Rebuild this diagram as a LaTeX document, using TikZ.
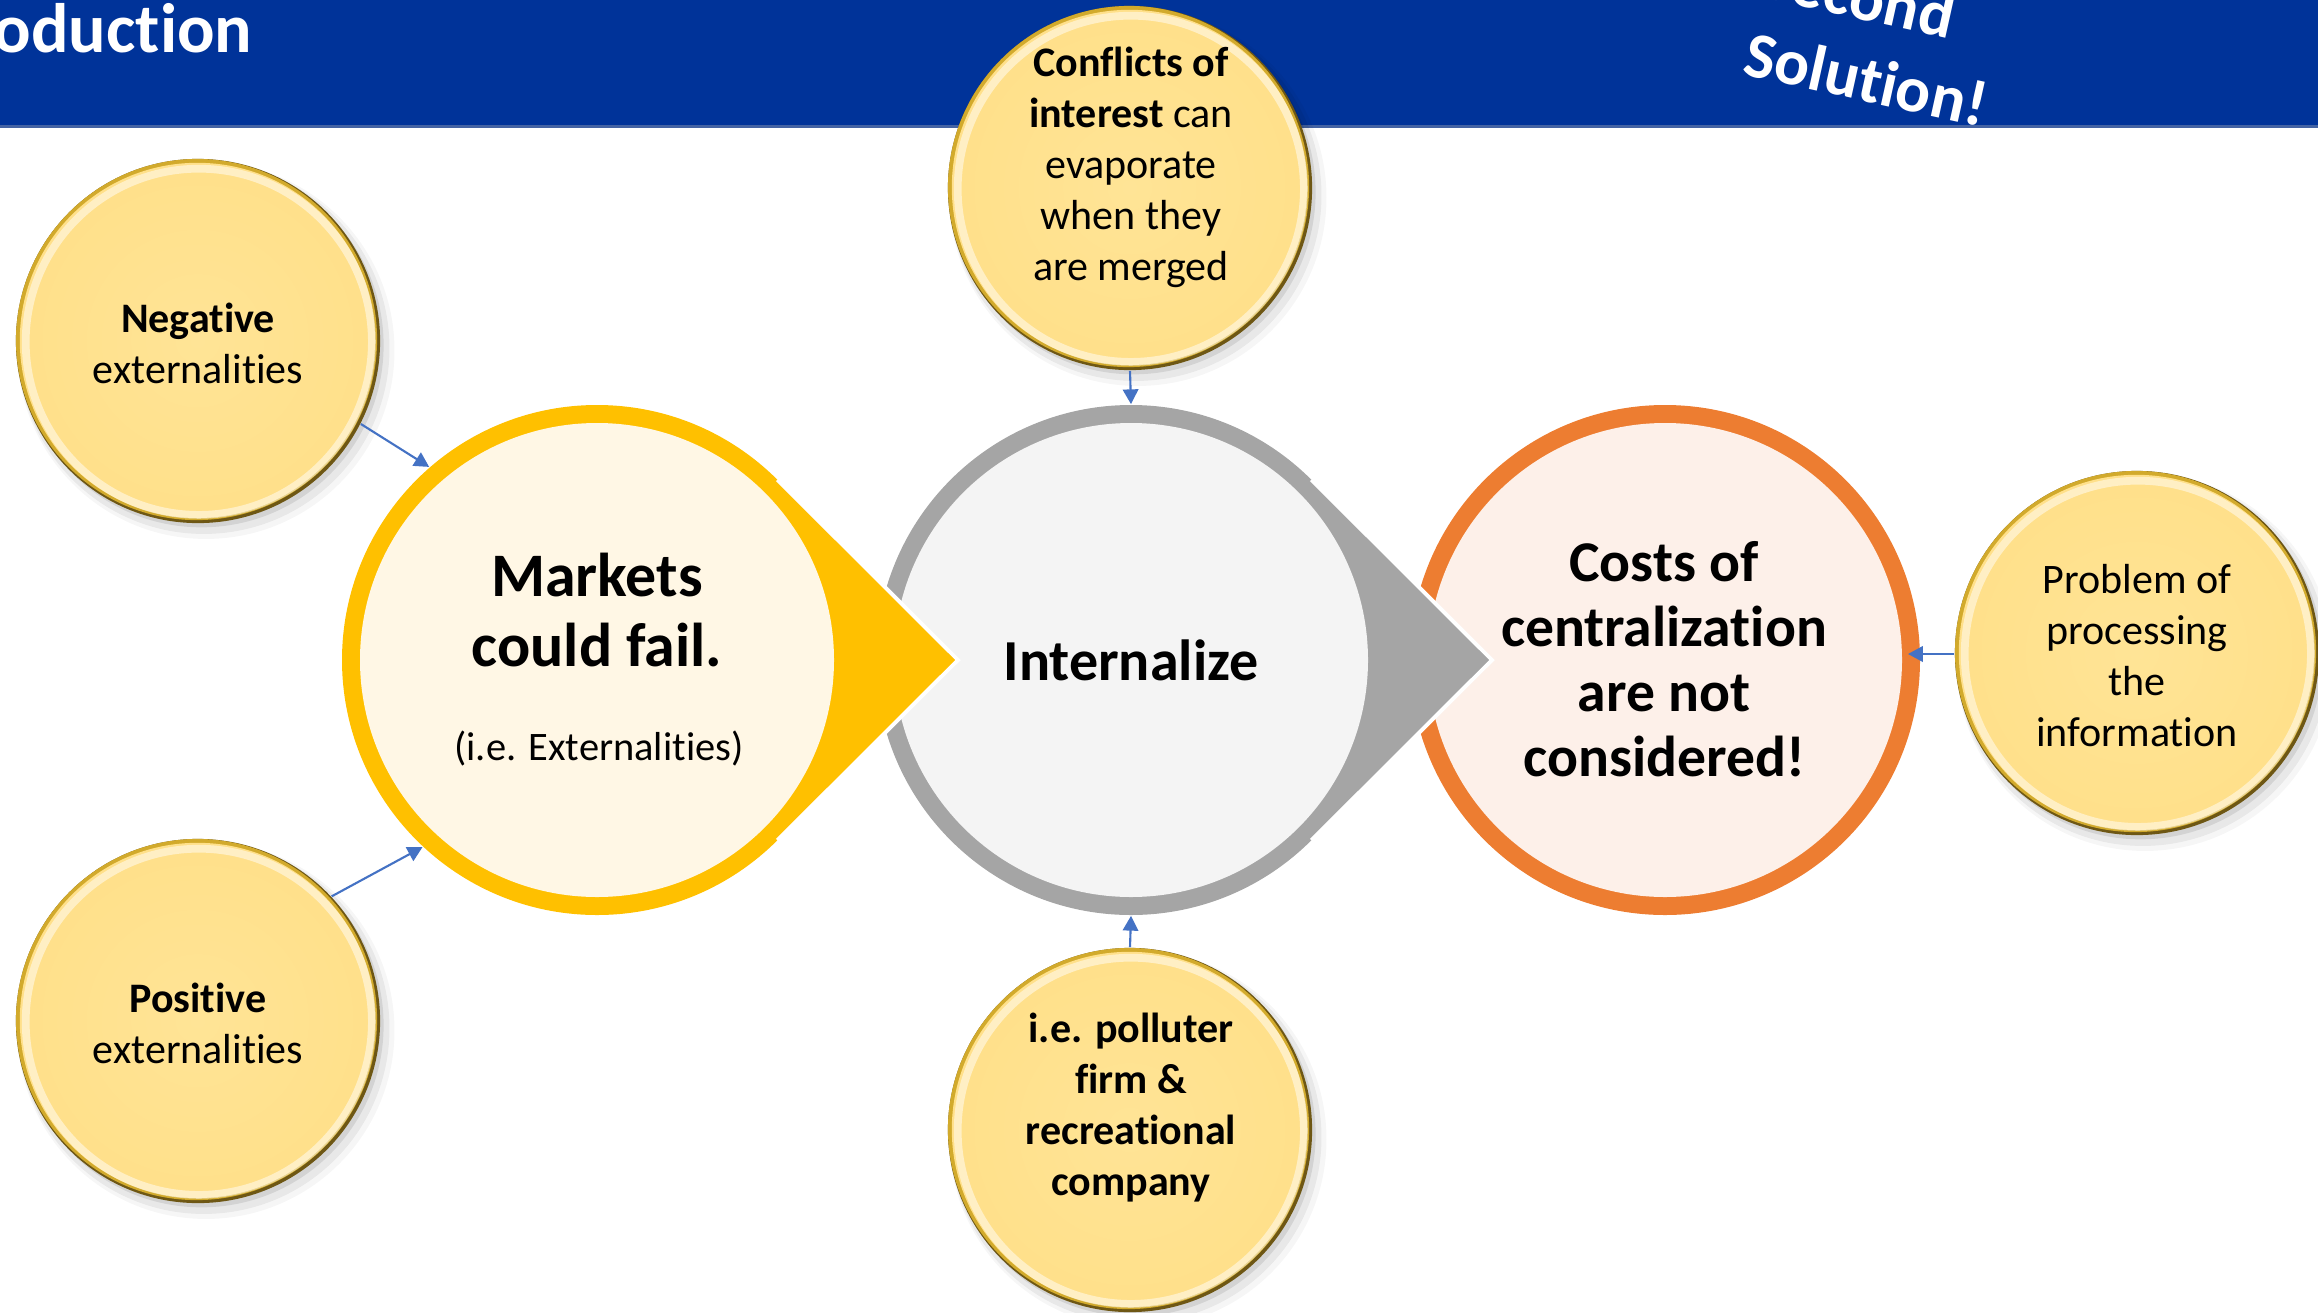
\documentclass[tikz,border=0pt]{standalone}
\usepackage{fontspec}
\setmainfont{Carlito}[Ligatures={NoCommon}]
\usetikzlibrary{arrows.meta,shadows}

\definecolor{banner}{HTML}{003399}
\definecolor{bannerline}{HTML}{4463A3}
\definecolor{goldring}{HTML}{FFC000}
\definecolor{goldfill}{HTML}{FFF7E5}
\definecolor{grayring}{HTML}{A5A5A5}
\definecolor{grayfill}{HTML}{F4F4F4}
\definecolor{orangering}{HTML}{ED7D31}
\definecolor{orangefill}{HTML}{FDF0E9}
\definecolor{arrowblue}{HTML}{4472C4}
\definecolor{bubbleDark}{HTML}{6E5714}
\definecolor{bubbleRim}{HTML}{D2AA2C}
\definecolor{bubbleIn}{HTML}{FFE496}
\definecolor{bubbleOut}{HTML}{FFE08A}

% teardrop: ring colour, fill colour; drawn around the current origin
\newcommand\teardrop[2]{%
  \fill[#1] (0,0) circle[radius=255];
  \fill[#1] (180.3,-180.3) -- (361,0) -- (180.3,180.3) -- cycle;
  \draw[white, line width=1.1pt, line join=miter] (180.3,-180.3) -- (361,0) -- (180.3,180.3);
  \fill[#2] (0,0) circle[radius=237];
}

\tikzset{
  holder/.style={circle, inner sep=0, minimum size=5.1cm},
  bubble/.style={circle, inner sep=0, minimum size=3.64cm,
    drop shadow={shadow xshift=2.2pt, shadow yshift=-2.6pt, shadow scale=1.035, opacity=0.035, fill=black},
    drop shadow={shadow xshift=1.6pt, shadow yshift=-2pt, shadow scale=1.02, opacity=0.06, fill=black},
    drop shadow={shadow xshift=1pt, shadow yshift=-1.2pt, opacity=0.09, fill=black},
    fill=bubbleDark,
    path picture={
      \fill[bubbleRim] ([shift={(-0.015cm,0.015cm)}]path picture bounding box.center) circle[radius=1.805cm];
      \shade[inner color=bubbleIn, outer color=bubbleOut] ([shift={(-0.006cm,0.006cm)}]path picture bounding box.center) circle[radius=1.775cm];
      \draw[white, opacity=0.5, line width=2.2pt] ([shift={(0.008cm,-0.008cm)}]path picture bounding box.center) circle[radius=1.73cm];
    }},
  btext/.style={align=center, inner sep=0, font=\fontsize{11.95}{14.5}\selectfont},
  bigtext/.style={align=center, inner sep=0, font=\bfseries\fontsize{16.4}{18.5}\selectfont},
  arr/.style={draw=arrowblue, line width=0.6pt, -{Triangle[length=4.2pt,width=4.4pt]}},
}

\begin{document}
\begin{tikzpicture}[x=0.01cm, y=-0.01cm]
\useasboundingbox (0,0) rectangle (2318,1312);

% title banner
\fill[banner] (0,0) rectangle (2318,125);
\fill[bannerline] (0,125) rectangle (2318,127.5);
\node[anchor=base east, inner sep=0, text=white, font=\bfseries\fontsize{19.9}{24}\selectfont] (title) at (253,52) {oduction};
\node[rotate=-12.5, align=left, inner sep=0, text=white, font=\bfseries\fontsize{18.5}{22.5}\selectfont] (sol) at (1875,40) {Second\\Solution!};

% the three main circles, right to left so each pointer lies on top
\begin{scope}[shift={(1665,660)}]
  \fill[orangering] (0,0) circle[radius=255];
  \fill[orangefill] (0,0) circle[radius=237];
\end{scope}
\begin{scope}[shift={(1131,660)}]\teardrop{grayring}{grayfill}\end{scope}
\begin{scope}[shift={(597,660)}]\teardrop{goldring}{goldfill}\end{scope}

\node[holder] (cost) at (1665,660) {};
\node[holder] (intl) at (1131,660) {};
\node[holder] (mkt) at (597,660) {};
\coordinate (costR) at (1908,654);

\node[align=center, inner sep=0, font=\bfseries\fontsize{17.6}{19.9}\selectfont] (mktT) at (597,610) {Markets\\could fail.};
\node[inner sep=0, font=\fontsize{11.5}{13.7}\selectfont] (mktS) at (599,749) {(i.e. Externalities)};
\node[inner sep=0, font=\bfseries\fontsize{16.5}{19}\selectfont] (intlT) at (1131,660) {Internalize};
\node[bigtext] (costT) at (1664,659) {Costs of\\centralization\\are not\\considered!};

% gold bubbles
\node[bubble] (neg) at (198,341) {};
\node[bubble] (pos) at (198,1021) {};
\node[bubble] (conf) at (1130,188) {};
\node[bubble] (comp) at (1130,1130) {};
\node[bubble] (prob) at (2137,653) {};

\node[btext] (negT) at (198,343) {\textbf{Negative}\\externalities};
\node[btext] (posT) at (198,1023) {\textbf{Positive}\\externalities};
\node[btext] (confT) at (1131,167) {\textbf{Conflicts of}\\\textbf{interest} can\\evaporate\\when they\\are merged};
\node[btext, font=\bfseries\fontsize{11.95}{14.5}\selectfont] (compT) at (1131,1108) {i.e. polluter\\firm \&\\recreational\\company};
\node[btext] (probT) at (2137,656) {Problem of\\processing\\the\\information};

% connectors
\draw[arr] (neg.-27) -- (mkt.131);
\draw[arr] (pos.43) -- (mkt.227);
\draw[arr] (conf.south) -- (intl.north);
\draw[arr] (comp.north) -- (intl.south);
\draw[arr] (prob.west |- costR) -- (costR);
\end{tikzpicture}
\end{document}
